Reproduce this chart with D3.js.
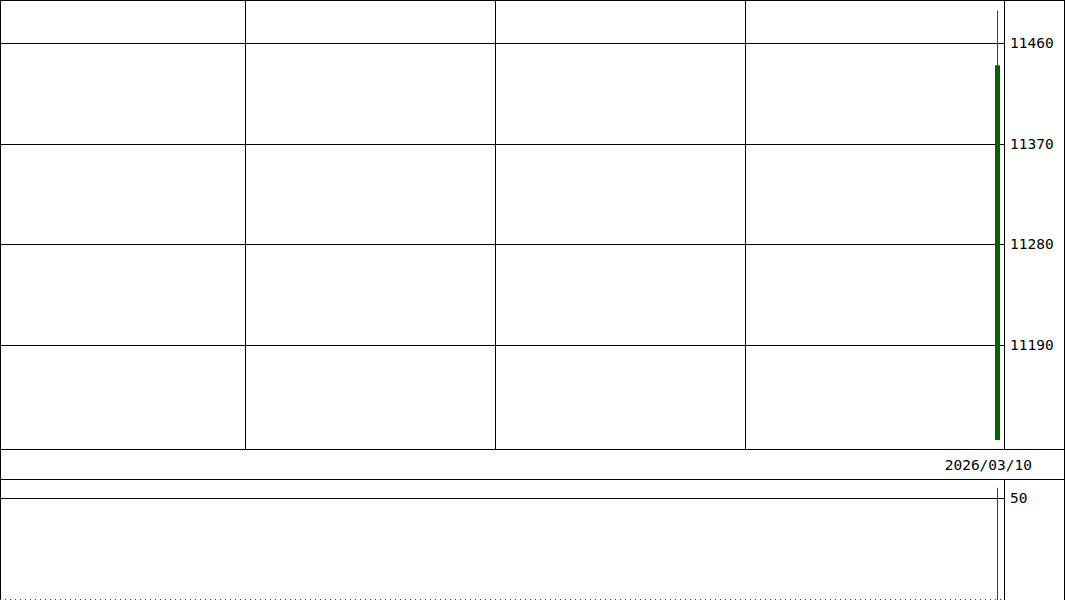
<!DOCTYPE html>
<html>
<head>
<meta charset="utf-8">
<script src="https://cdn.jsdelivr.net/npm/d3@7"></script>
<style>
  body { margin: 0; background: #fff; }
  svg { display: block; }
  text { font-family: "DejaVu Sans Mono", monospace; font-size: 14.5px; fill: #000; }
</style>
</head>
<body>
<script>
// candle data (single session)
var dates = ["2026/03/10"];
var opens = [11105];
var highs = [11489];
var lows = [11105];
var closes = [11440];
var volumes = [55];

var priceTicks = [11190, 11280, 11370, 11460];
var volumeTicks = [50];
var gridSlots = [-150.5, -100.5, -50.5];   // vertical grid, in bar slots
var dateLabel = "2026/03/10";

var W = 1065, H = 600;
var plotRight = 1004;
var mainTop = 0, mainBottom = 449;
var dateBottom = 479;
var volTop = 479, volBottom = 599;
var green = "#006400";

var svg = d3.select("body").append("svg")
  .attr("width", W)
  .attr("height", H);

var x = d3.scaleLinear().domain([-199.5, 1.3]).range([0, plotRight]);
var y = d3.scaleLinear().domain([11097, 11498.4]).range([mainBottom, mainTop]);
var yv = d3.scaleLinear().domain([0, 59.4]).range([volBottom, volTop]);

function px(v) { return Math.round(v) + 0.5; }

// price panel gridlines
svg.selectAll("line.vgrid")
  .data(gridSlots)
  .enter().append("line")
  .attr("x1", function(d){ return px(x(d)); })
  .attr("x2", function(d){ return px(x(d)); })
  .attr("y1", mainTop)
  .attr("y2", mainBottom)
  .attr("stroke", "#000");

svg.selectAll("line.hgrid")
  .data(priceTicks)
  .enter().append("line")
  .attr("x1", 0)
  .attr("x2", plotRight)
  .attr("y1", function(d){ return px(y(d)); })
  .attr("y2", function(d){ return px(y(d)); })
  .attr("stroke", "#000");

svg.selectAll("text.ptick")
  .data(priceTicks)
  .enter().append("text")
  .attr("x", 1010)
  .attr("y", function(d){ return y(d) + 5; })
  .text(function(d){ return d; });

// volume panel gridline + label
svg.selectAll("line.vol")
  .data(volumeTicks)
  .enter().append("line")
  .attr("x1", 0)
  .attr("x2", plotRight)
  .attr("y1", function(d){ return px(yv(d)); })
  .attr("y2", function(d){ return px(yv(d)); })
  .attr("stroke", "#000");

svg.selectAll("text.vtick")
  .data(volumeTicks)
  .enter().append("text")
  .attr("x", 1010)
  .attr("y", function(d){ return yv(d) + 5; })
  .text(function(d){ return d; });

// candles
var idx = d3.range(dates.length).map(function(i){ return i - (dates.length - 1); });

svg.selectAll("line.wick")
  .data(idx)
  .enter().append("line")
  .attr("x1", function(d){ return px(x(d)); })
  .attr("x2", function(d){ return px(x(d)); })
  .attr("y1", function(d, i){ return y(highs[i]); })
  .attr("y2", function(d, i){ return y(lows[i]); })
  .attr("stroke", green);

svg.selectAll("rect.body")
  .data(idx)
  .enter().append("rect")
  .attr("x", function(d){ return Math.round(x(d)) - 2; })
  .attr("width", 5)
  .attr("y", function(d, i){ return y(Math.max(opens[i], closes[i])); })
  .attr("height", function(d, i){ return Math.abs(y(opens[i]) - y(closes[i])); })
  .attr("fill", green);

// volume bars (thin)
svg.selectAll("line.vbar")
  .data(idx)
  .enter().append("line")
  .attr("x1", function(d){ return px(x(d)); })
  .attr("x2", function(d){ return px(x(d)); })
  .attr("y1", function(d, i){ return yv(volumes[i]); })
  .attr("y2", volBottom + 1)
  .attr("stroke", green);

// frame
svg.append("line").attr("x1", px(plotRight)).attr("x2", px(plotRight))
  .attr("y1", mainTop).attr("y2", mainBottom).attr("stroke", "#000");
svg.append("line").attr("x1", px(plotRight)).attr("x2", px(plotRight))
  .attr("y1", volTop).attr("y2", H).attr("stroke", "#000");
svg.append("line").attr("x1", 0).attr("x2", W)
  .attr("y1", px(mainBottom)).attr("y2", px(mainBottom)).attr("stroke", "#000");
svg.append("line").attr("x1", 0).attr("x2", W)
  .attr("y1", px(dateBottom)).attr("y2", px(dateBottom)).attr("stroke", "#000");
svg.append("line").attr("x1", 0).attr("x2", W)
  .attr("y1", 0.5).attr("y2", 0.5).attr("stroke", "#000");
svg.append("line").attr("x1", 0.5).attr("x2", 0.5)
  .attr("y1", 0).attr("y2", H).attr("stroke", "#000");
svg.append("line").attr("x1", W - 0.5).attr("x2", W - 0.5)
  .attr("y1", 0).attr("y2", H).attr("stroke", "#000");
svg.append("line").attr("x1", 0).attr("x2", plotRight)
  .attr("y1", H - 0.5).attr("y2", H - 0.5)
  .attr("stroke", green).attr("stroke-dasharray", "1,4");

// date label
svg.append("text")
  .attr("x", 1032)
  .attr("y", 470)
  .attr("text-anchor", "end")
  .text(dateLabel);
</script>
</body>
</html>
